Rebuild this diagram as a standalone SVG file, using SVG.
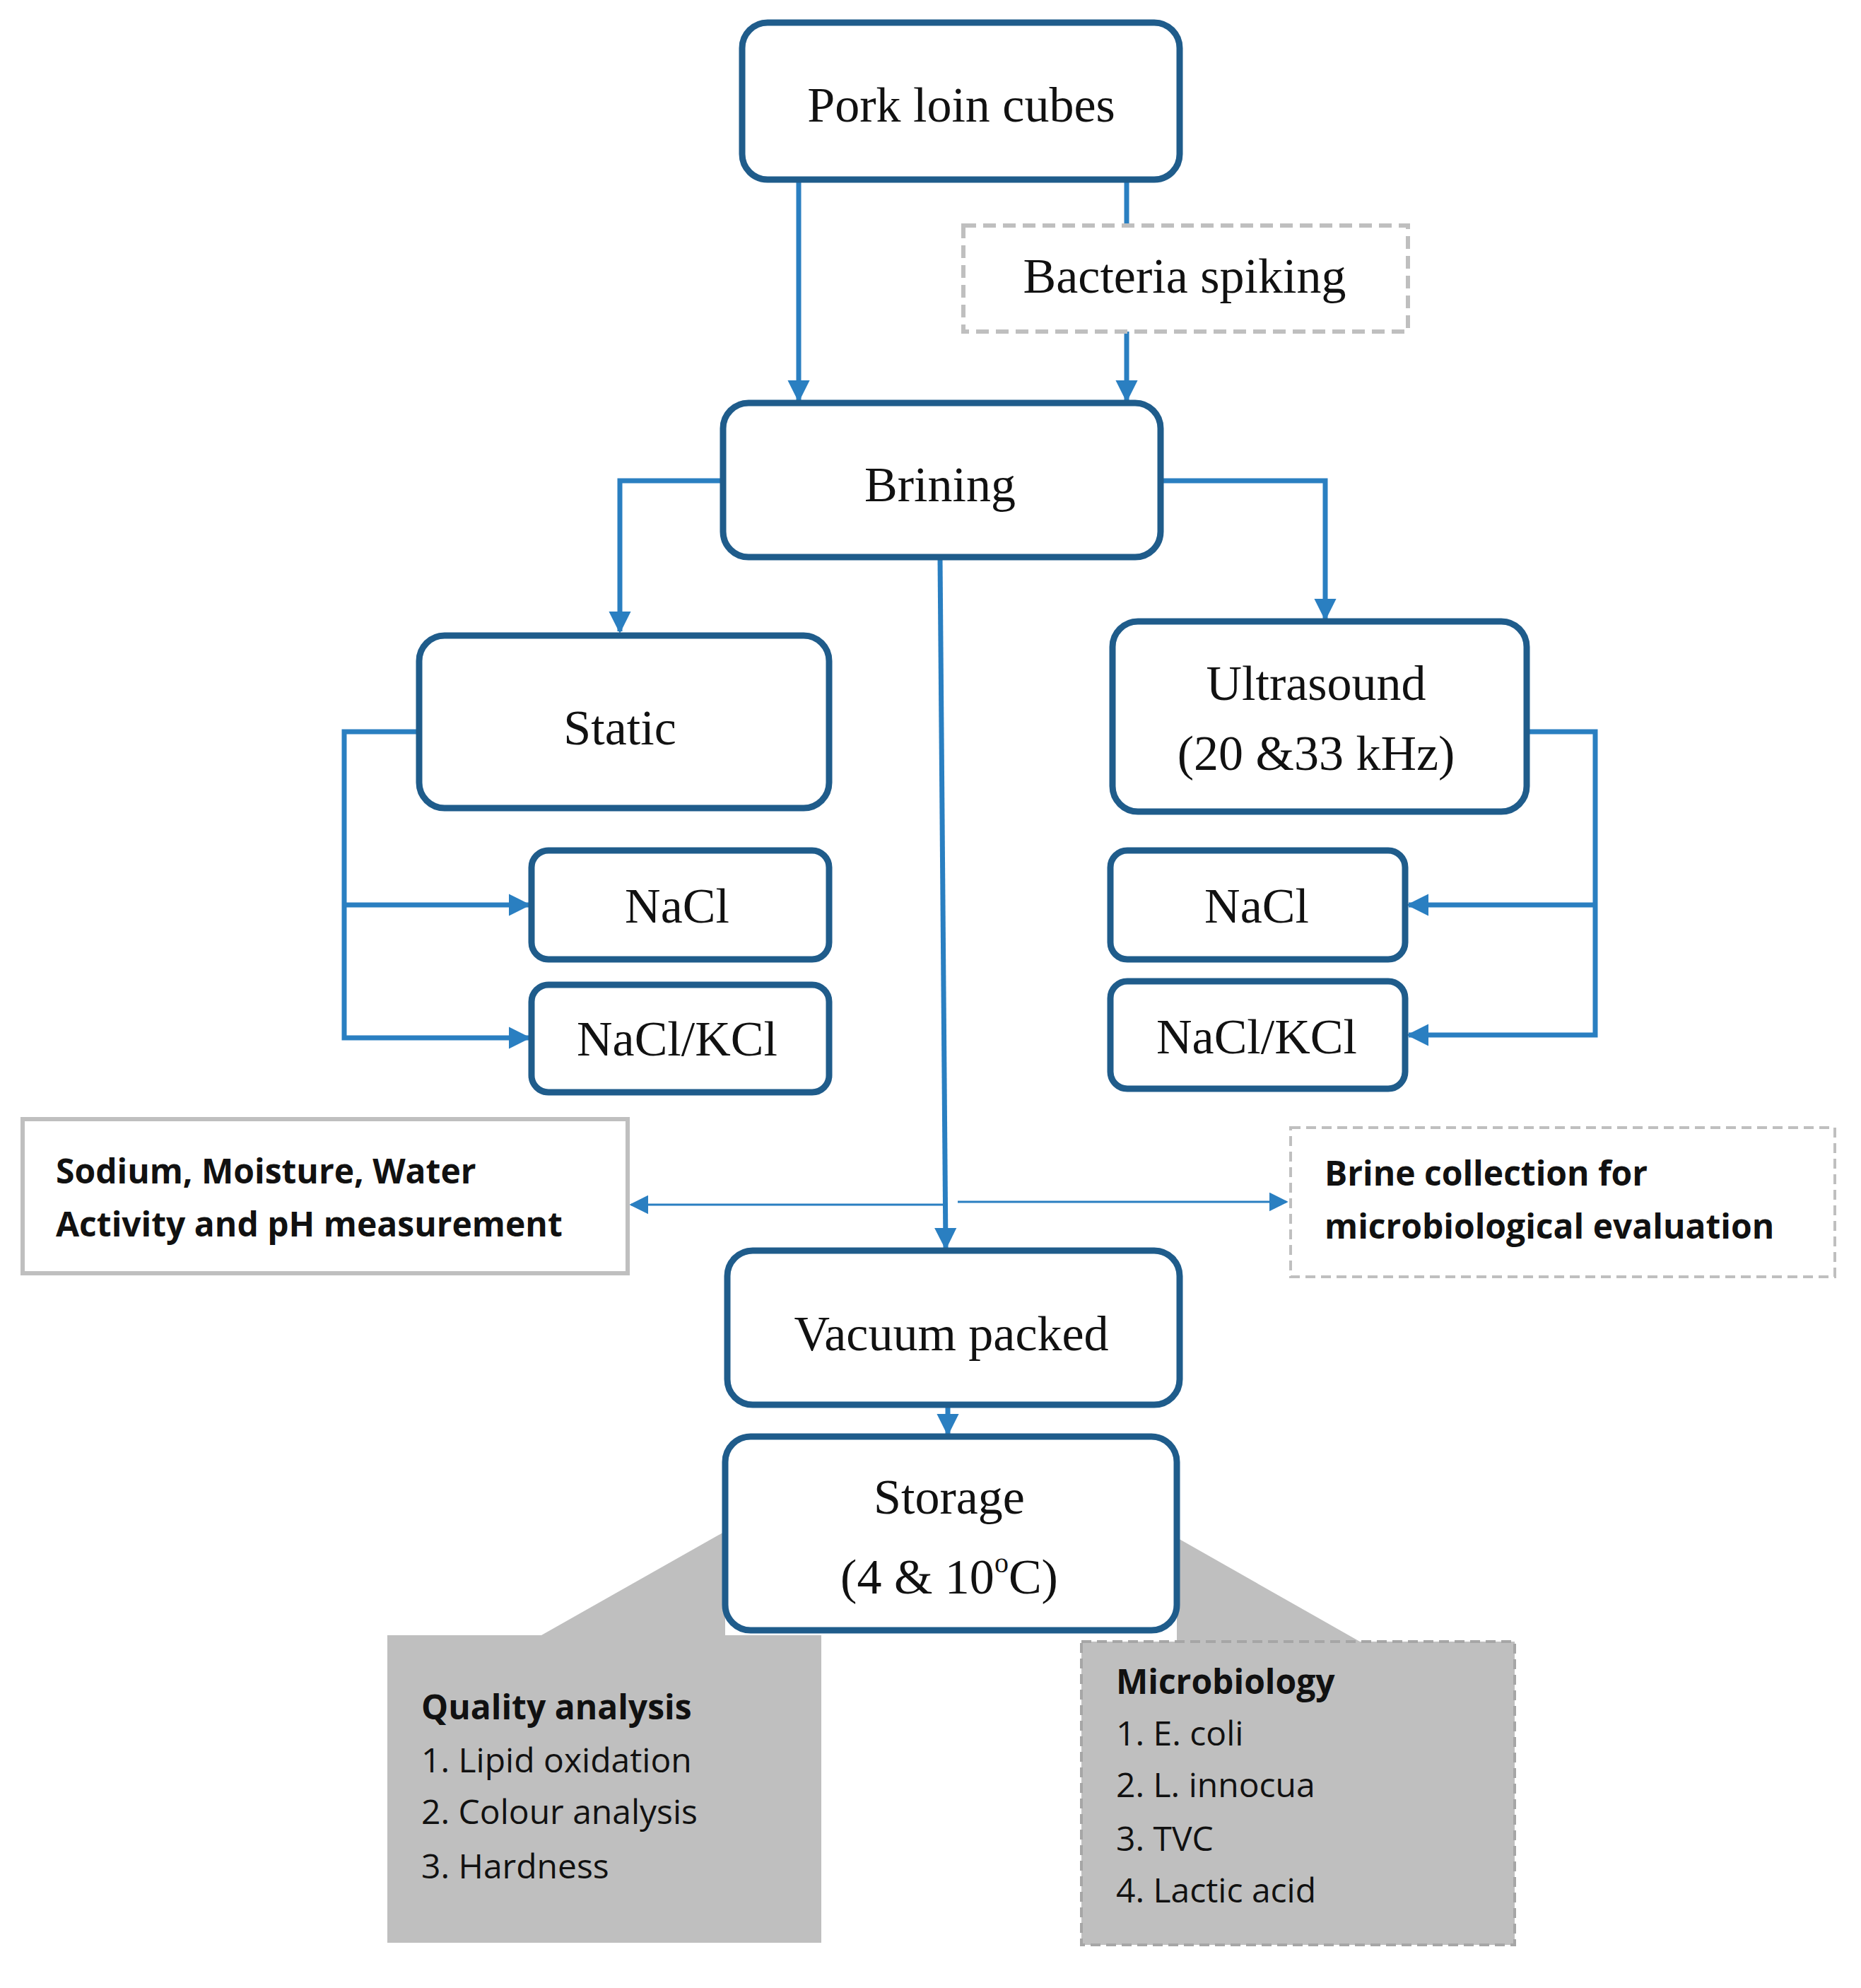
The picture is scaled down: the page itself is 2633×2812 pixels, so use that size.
<svg xmlns="http://www.w3.org/2000/svg" width="2633" height="2812" viewBox="0 0 2633 2812">
<defs>
<style>
.box{fill:#fff;stroke:#1f5c8b;stroke-width:9}
.t{font-family:"Liberation Serif",serif;font-size:70px;fill:#111;text-anchor:middle}
.s{font-family:"Open Sans","Liberation Sans",sans-serif;font-size:48px;fill:#111}
.b{font-weight:bold}
.c{fill:none;stroke:#2a7fc1;stroke-width:7}
.thin{fill:none;stroke:#2a7fc1;stroke-width:3}
</style>
<marker id="a" viewBox="0 0 10 10" refX="9" refY="5" markerWidth="4.5" markerHeight="4.5" orient="auto" markerUnits="strokeWidth"><path d="M0,0L10,5L0,10z" fill="#2a7fc1"/></marker>
<marker id="a2" viewBox="0 0 10 10" refX="9" refY="5" markerWidth="9" markerHeight="9" orient="auto" markerUnits="strokeWidth"><path d="M0,0L10,5L0,10z" fill="#2a7fc1"/></marker>
</defs>
<g id="callouts">
<polygon points="548,2313 766,2313 1026,2166 1026,2313 1162,2313 1162,2748 548,2748" fill="#bfbfbf"/>
<polygon points="1530,2322 1924,2322 1665,2175 1665,2322" fill="#bfbfbf"/>
<rect x="1530" y="2322" width="613" height="429" fill="#bfbfbf" stroke="#a6a6a6" stroke-width="4" stroke-dasharray="14,8"/>
</g>
<g id="connectors">
<line class="c" x1="1130" y1="254" x2="1130" y2="566" marker-end="url(#a)"/>
<line class="c" x1="1594" y1="254" x2="1594" y2="319"/>
<line class="c" x1="1594" y1="469" x2="1594" y2="566" marker-end="url(#a)"/>
<polyline class="c" points="1023,680 877,680 877,893" marker-end="url(#a)"/>
<polyline class="c" points="1642,680 1875,680 1875,875" marker-end="url(#a)"/>
<polyline class="c" points="593,1035 487,1035 487,1468 748,1468" marker-end="url(#a)"/>
<line class="c" x1="487" y1="1280" x2="748" y2="1280" marker-end="url(#a)"/>
<polyline class="c" points="2160,1035 2257,1035 2257,1464 1993,1464" marker-end="url(#a)"/>
<line class="c" x1="2257" y1="1280" x2="1993" y2="1280" marker-end="url(#a)"/>
<line class="c" x1="1330" y1="788" x2="1338" y2="1765" marker-end="url(#a)" stroke-width="9"/>
<line class="thin" x1="1334" y1="1704" x2="893" y2="1704" marker-end="url(#a2)"/>
<line class="thin" x1="1355" y1="1700" x2="1820" y2="1700" marker-end="url(#a2)"/>
<line class="c" x1="1341" y1="1987" x2="1341" y2="2028" marker-end="url(#a)"/>
</g>
<g id="pork"><rect class="box" x="1050" y="32" width="619" height="222" rx="36"/><text class="t" x="1360" y="172">Pork loin cubes</text></g>
<g id="bacteria"><rect x="1363" y="319" width="629" height="150" fill="#fff" stroke="#bfbfbf" stroke-width="6" stroke-dasharray="18,10"/><text class="t" x="1676" y="414">Bacteria spiking</text></g>
<g id="brining"><rect class="box" x="1023" y="570" width="619" height="218" rx="36"/><text class="t" x="1330" y="709">Brining</text></g>
<g id="static"><rect class="box" x="593" y="899" width="580" height="244" rx="36"/><text class="t" x="877" y="1053">Static</text></g>
<g id="ultrasound"><rect class="box" x="1574" y="879" width="586" height="269" rx="36"/><text class="t" x="1862" y="990">Ultrasound</text><text class="t" x="1862" y="1089">(20 &amp;33 kHz)</text></g>
<g id="nacl-l"><rect class="box" x="752" y="1203" width="421" height="154" rx="24"/><text class="t" x="958" y="1305">NaCl</text></g>
<g id="naclkcl-l"><rect class="box" x="752" y="1393" width="421" height="152" rx="24"/><text class="t" x="958" y="1493">NaCl/KCl</text></g>
<g id="nacl-r"><rect class="box" x="1571" y="1203" width="417" height="154" rx="24"/><text class="t" x="1778" y="1305">NaCl</text></g>
<g id="naclkcl-r"><rect class="box" x="1571" y="1388" width="417" height="152" rx="24"/><text class="t" x="1778" y="1490">NaCl/KCl</text></g>
<g id="sodium"><rect x="32" y="1583" width="856" height="218" fill="#fff" stroke="#bfbfbf" stroke-width="6"/><text class="s b" x="79" y="1674">Sodium, Moisture, Water</text><text class="s b" x="79" y="1749">Activity and pH measurement</text></g>
<g id="brine"><rect x="1826" y="1595" width="770" height="211" fill="#fff" stroke="#bfbfbf" stroke-width="4" stroke-dasharray="14,8"/><text class="s b" x="1874" y="1677">Brine collection for</text><text class="s b" x="1874" y="1752">microbiological evaluation</text></g>
<g id="vacuum"><rect class="box" x="1029" y="1769" width="640" height="218" rx="36"/><text class="t" x="1346" y="1910">Vacuum packed</text></g>
<g id="storage"><rect class="box" x="1026" y="2032" width="639" height="274" rx="36"/><text class="t" x="1343" y="2141">Storage</text><text class="t" x="1343" y="2254">(4 &amp; 10<tspan font-size="40" dy="-30">o</tspan><tspan dy="30">C)</tspan></text></g>
<g id="quality"><text class="s b" x="596" y="2432">Quality analysis</text><text class="s" x="596" y="2507">1. Lipid oxidation</text><text class="s" x="596" y="2580">2. Colour analysis</text><text class="s" x="596" y="2657">3. Hardness</text></g>
<g id="micro"><text class="s b" x="1579" y="2396">Microbiology</text><text class="s" x="1579" y="2469">1. E. coli</text><text class="s" x="1579" y="2542">2. L. innocua</text><text class="s" x="1579" y="2618">3. TVC</text><text class="s" x="1579" y="2691">4. Lactic acid</text></g>
</svg>
